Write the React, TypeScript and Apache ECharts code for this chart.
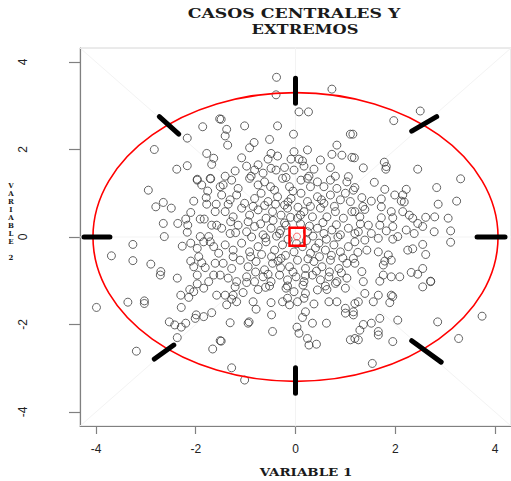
import React, { useEffect, useRef } from "react";
import * as echarts from "echarts";

// ---- data ----
const TICK_VALUES = [-4, -2, 0, 2, 4];
const AXIS_MIN = -4.32;
const AXIS_MAX = 4.32;

const TITLE_LINE_1 = "CASOS CENTRALES Y";
const TITLE_LINE_2 = "EXTREMOS";
const X_NAME = "VARIABLE 1";
const Y_NAME = "VARIABLE 2";

// ellipse radii (data units) of the red contour
const ELLIPSE_RADII = [4.06, 3.3];

// black marks crossing the contour: [x1, y1, x2, y2]
const MARK_SEGMENTS = [
  [3.64, 0, 4.2, 0],
  [-4.24, 0, -3.72, 0],
  [0, 3.63, 0, 3.06],
  [0, -2.99, 0, -3.57],
  [-2.73, 2.75, -2.34, 2.35],
  [2.33, 2.42, 2.83, 2.75],
  [-2.83, -2.79, -2.44, -2.47],
  [2.33, -2.37, 2.92, -2.86],
];

// faint guide lines through the centre
const GUIDE_SEGMENTS = [
  [-4.32, 0, 4.32, 0],
  [0, -4.32, 0, 4.32],
  [-4.32, -4.32, 4.32, 4.32],
  [-4.32, 4.32, 4.32, -4.32],
];

const CENTRAL_CASE = [[0.03, 0.01]];
const CENTRAL_BOX = [-0.12, -0.2, 0.18, 0.21];

const pointsUpperLeft = [
  [-1.86, 2.52], [-1.52, 2.7], [-2.17, 2.26], [-2.83, 2.0], [-1.78, 1.91], [-1.64, 1.8],
  [-1.68, 1.66], [-2.17, 1.63], [-2.38, 1.55], [-1.97, 1.32], [-1.71, 1.34],
];

const pointsUpper = [
  [-0.38, 3.65], [0.73, 3.38], [-0.39, 3.25], [0.07, 2.86], [0.26, 2.86], [-1.49, 2.69],
  [-1.02, 2.54], [-0.36, 2.54], [-1.38, 2.46], [-1.41, 2.31], [-0.04, 2.35], [1.1, 2.35],
  [-0.52, 2.23], [-1.36, 2.1], [-0.83, 2.16], [-0.92, 2.04], [0.83, 2.1], [0.24, 1.99],
  [-0.03, 1.95], [-0.49, 1.91], [-1.08, 1.81], [-0.55, 1.78], [-0.36, 1.85], [-0.09, 1.78],
  [0.07, 1.78], [0.14, 1.74], [0.73, 1.89], [0.93, 1.87], [1.13, 1.82], [0.5, 1.76],
  [-0.98, 1.62], [-0.75, 1.65], [-0.82, 1.53], [-0.49, 1.57], [-0.22, 1.59], [0.17, 1.62],
  [0.37, 1.55], [0.7, 1.59], [-1.21, 1.51], [-1.41, 1.39], [-0.89, 1.39], [-0.65, 1.46],
  [-0.39, 1.53], [-0.03, 1.53], [0.27, 1.39], [0.8, 1.39], [1.06, 1.38], [-0.19, 1.36],
];

const pointsUpperRight = [
  [2.5, 2.88], [1.97, 2.66], [1.15, 2.35], [1.18, 1.81], [1.36, 1.58], [1.78, 1.71],
  [1.82, 1.61], [1.81, 1.55], [2.45, 1.55], [3.31, 1.33],
];

const pointsLeft = [
  [-2.95, 1.07], [-2.65, 0.79], [-2.8, 0.69], [-2.49, 0.66], [-1.97, 1.3], [-1.7, 1.33],
  [-1.88, 1.19], [-1.76, 1.05], [-1.51, 1.15], [-2.04, 0.82], [-1.79, 0.9], [-1.78, 0.75],
  [-1.59, 0.75], [-2.1, 0.56], [-2.65, 0.31], [-2.36, 0.31], [-2.16, 0.27], [-2.2, 0.41],
  [-1.91, 0.41], [-1.83, 0.41], [-1.61, 0.58], [-1.68, 0.27], [-1.58, 0.27], [-2.17, 0.11],
  [-2.63, 0.01], [-1.91, 0.01], [-1.74, 0.01], [-3.26, -0.17], [-3.69, -0.43], [-3.26, -0.54],
  [-2.9, -0.62], [-2.7, -0.79], [-2.71, -0.87], [-2.37, -0.94], [-2.27, -0.21], [-2.1, -0.14],
  [-1.97, -0.26], [-1.84, -0.11], [-1.71, -0.11], [-1.64, -0.22], [-1.54, -0.37], [-2.1, -0.55],
  [-1.94, -0.45], [-1.88, -0.59], [-2.04, -0.68], [-1.81, -0.7], [-1.61, -0.6], [-1.97, -0.87],
  [-1.64, -0.87], [-1.51, -0.87], [-1.74, -1.02],
];

const pointsRight = [
  [1.58, 1.25], [2.83, 1.13], [2.22, 1.09], [1.79, 1.09], [1.19, 1.13], [1.99, 0.96],
  [2.15, 0.96], [1.33, 0.9], [1.72, 0.87], [1.52, 0.82], [2.12, 0.82], [2.18, 0.8],
  [3.23, 0.82], [2.86, 0.75], [1.72, 0.69], [1.39, 0.63], [1.19, 0.58], [1.92, 0.58],
  [2.15, 0.58], [1.29, 0.46], [1.72, 0.44], [1.95, 0.44], [2.28, 0.5], [2.35, 0.43],
  [2.61, 0.45], [2.79, 0.46], [3.06, 0.43], [2.45, 0.31], [2.55, 0.24], [1.46, 0.27],
  [1.69, 0.27], [1.95, 0.24], [2.22, 0.16], [2.38, 0.08], [2.78, 0.12], [3.11, 0.14],
  [1.26, 0.12], [1.52, 0.08], [1.82, 0.14], [2.05, 0.01], [1.95, -0.05], [1.66, -0.03],
  [1.39, -0.07], [1.19, -0.11], [3.11, -0.12], [2.55, -0.17], [2.35, -0.27], [2.25, -0.3],
  [2.61, -0.4], [1.43, -0.3], [1.66, -0.34], [1.86, -0.41], [1.19, -0.6], [1.79, -0.55],
  [1.92, -0.53], [1.76, -0.64], [2.55, -0.72], [2.32, -0.81], [2.45, -0.85], [1.33, -0.79],
  [1.76, -0.87], [1.92, -0.91], [2.09, -0.91], [2.71, -1.01], [1.69, -1.01], [1.36, -1.02],
];

const pointsLowerLeft = [
  [-3.99, -1.61], [-3.36, -1.49], [-3.03, -1.46], [-3.03, -1.52], [-2.29, -1.61], [-2.3, -1.33],
  [-2.12, -1.2], [-2.14, -1.38], [-2.04, -1.25], [-1.97, -1.07], [-1.84, -1.17], [-1.58, -1.33],
  [-2.53, -1.94], [-2.42, -2.01], [-2.2, -1.97], [-2.29, -2.06], [-1.99, -1.78], [-2.01, -1.86],
  [-1.84, -1.82], [-1.68, -1.73], [-2.37, -2.3], [-3.19, -2.61], [-1.66, -2.56], [-1.51, -2.37],
];

const pointsLower = [
  [-1.49, -2.38], [-1.31, -1.96], [-0.95, -1.97], [-0.93, -1.94], [-0.46, -2.16], [0.03, -2.06],
  [0.07, -2.2], [-0.48, -1.78], [0.14, -1.84], [0.34, -1.97], [0.62, -1.97], [0.24, -2.32],
  [0.27, -2.47], [0.42, -2.45], [1.1, -2.35], [1.19, -2.32], [-1.28, -2.99], [-1.02, -3.27],
  [-0.79, -1.65], [-0.49, -1.5], [-1.38, -1.55], [-1.28, -1.42], [-1.18, -1.48], [-0.85, -1.48],
  [-0.26, -1.48], [-0.12, -1.55], [-0.16, -1.4], [0.04, -1.48], [0.17, -1.4], [0.37, -1.53],
  [0.2, -1.71], [0.67, -1.48], [0.83, -1.48], [1.0, -1.63], [1.0, -1.74], [1.16, -1.71],
  [0.44, -1.21], [0.63, -1.2], [0.8, -1.06], [1.0, -1.17], [-0.03, -1.25], [0.2, -1.29],
  [-0.52, -1.12], [-0.75, -1.2], [-1.05, -1.27], [-1.25, -1.33], [-1.41, -1.33], [-1.21, -1.14],
  [-0.98, -1.04], [-0.19, -1.17], [-0.16, -1.12],
];

const pointsLowerRight = [
  [2.55, -1.14], [2.71, -1.02], [1.92, -1.33], [1.95, -1.36], [1.89, -1.5], [1.66, -1.33],
  [1.56, -1.48], [1.39, -1.29], [1.26, -1.48], [1.19, -1.52], [1.16, -1.78], [1.69, -1.86],
  [2.05, -1.9], [1.52, -1.97], [1.36, -2.0], [1.29, -2.13], [1.66, -2.16], [1.66, -2.24],
  [1.26, -2.35], [1.95, -2.39], [2.85, -1.94], [3.74, -1.81], [3.27, -2.32], [1.54, -2.89],
];

const pointsCenter = [
  [-1.45, 1.19], [-1.28, 1.3], [-1.15, 1.11], [-0.92, 1.34], [-0.75, 1.19], [-0.62, 1.26],
  [-0.42, 1.07], [-0.26, 1.34], [-0.12, 1.15], [0.11, 1.3], [0.24, 1.34], [0.44, 1.26],
  [0.57, 1.15], [0.7, 1.3], [0.83, 1.11], [1.03, 1.26], [1.16, 1.07],
  [-1.48, 0.96], [-1.31, 0.85], [-1.18, 0.96], [-1.02, 0.77], [-0.82, 0.88], [-0.69, 1.0],
  [-0.55, 0.81], [-0.36, 0.92], [-0.22, 0.73], [-0.09, 0.88], [0.11, 1.0], [0.24, 0.81],
  [0.44, 0.92], [0.57, 0.77], [0.7, 0.96], [0.9, 0.85], [1.1, 0.81], [1.0, 1.0],
  [-1.41, 0.58], [-1.25, 0.46], [-1.08, 0.66], [-0.92, 0.5], [-0.75, 0.62], [-0.59, 0.43],
  [-0.46, 0.58], [-0.29, 0.5], [-0.16, 0.66], [0.04, 0.43], [0.17, 0.58], [0.34, 0.46],
  [0.5, 0.66], [0.63, 0.46], [0.8, 0.58], [0.96, 0.43], [1.13, 0.58],
  [-1.48, 0.2], [-1.31, 0.08], [-1.15, 0.27], [-0.98, 0.12], [-0.82, 0.24], [-0.65, 0.05],
  [-0.49, 0.2], [-0.32, 0.08], [-0.19, 0.27], [0.24, 0.12], [0.44, 0.2], [0.57, 0.08],
  [0.73, 0.16], [0.9, 0.05], [1.06, 0.2], [1.19, 0.08],
  [-1.41, -0.18], [-1.25, -0.3], [-1.08, -0.14], [-0.92, -0.34], [-0.75, -0.22], [-0.59, -0.11],
  [-0.42, -0.3], [-0.26, -0.18], [-0.03, -0.34], [0.14, -0.22], [0.3, -0.37], [0.47, -0.14],
  [0.6, -0.3], [0.77, -0.18], [0.9, -0.34], [1.06, -0.22],
  [-1.45, -0.6], [-1.28, -0.72], [-1.11, -0.53], [-0.95, -0.68], [-0.79, -0.56], [-0.62, -0.75],
  [-0.46, -0.6], [-0.29, -0.49], [-0.12, -0.68], [0.04, -0.53], [0.2, -0.72], [0.37, -0.56],
  [0.53, -0.68], [0.7, -0.53], [0.87, -0.72], [1.03, -0.6], [1.16, -0.49],
  [-1.35, -0.94], [-1.18, -1.02], [-0.98, -0.91], [-0.82, -1.02], [-0.65, -0.91], [-0.49, -1.02],
  [-0.32, -0.87], [-0.16, -0.98], [0.01, -0.91], [0.17, -1.02], [0.34, -0.87], [0.5, -0.98],
  [0.67, -0.91], [0.83, -1.02], [1.03, -0.94],
];

const pointsDense = [
  [-0.85, 0.7], [-0.62, 0.72], [-0.4, 0.75], [-0.15, 0.8], [0.05, 0.68], [0.3, 0.7], [0.52, 0.85], [0.78, 0.7],
  [-0.95, 0.35], [-0.7, 0.3], [-0.45, 0.38], [-0.22, 0.32], [0.1, 0.3], [0.28, 0.25], [0.55, 0.33], [0.82, 0.28],
  [-0.88, 0.0], [-0.6, -0.02], [-0.38, 0.02], [-0.15, -0.05], [0.35, 0.02], [0.62, -0.05], [0.85, 0.0], [0.22, -0.08],
  [-0.9, -0.45], [-0.68, -0.4], [-0.48, -0.45], [-0.2, -0.42], [0.02, -0.15], [0.25, -0.5], [0.48, -0.45], [0.72, -0.42], [0.95, -0.48],
  [-0.8, -0.8], [-0.55, -0.85], [-0.3, -0.7], [-0.05, -0.8], [0.2, -0.88], [0.42, -0.78], [0.68, -0.8], [0.92, -0.82],
  [-1.2, 0.1], [-1.25, -0.45], [-1.3, 0.35], [1.25, -0.35], [1.3, 0.3], [1.35, 0.7], [-1.35, 0.75],
  [-0.5, 1.15], [0.3, 1.15], [-0.05, 1.05], [0.15, -1.1], [-0.6, -1.15], [0.6, -1.12], [-0.3, 0.15],
  [0.1, 0.5], [-0.1, 0.45], [0.4, -0.25], [-0.35, -0.55],
];

const allPoints = [
  ...pointsUpperLeft, ...pointsUpper, ...pointsUpperRight, ...pointsLeft, ...pointsRight,
  ...pointsLowerLeft, ...pointsLower, ...pointsLowerRight, ...pointsCenter, ...pointsDense,
];

function segmentRenderer(stroke: string, width: number) {
  return (params: any, api: any) => {
    const p1 = api.coord([api.value(0), api.value(1)]);
    const p2 = api.coord([api.value(2), api.value(3)]);
    return {
      type: "line",
      shape: { x1: p1[0], y1: p1[1], x2: p2[0], y2: p2[1] },
      style: { stroke, lineWidth: width, lineCap: "round", fill: "none" },
    };
  };
}

export default function App() {
  const ref = useRef<HTMLDivElement>(null);

  useEffect(() => {
    if (!ref.current) return;
    const chart = echarts.init(ref.current, null, { renderer: "svg" });
    const serif = '"DejaVu Serif", serif';
    const sans = '"Liberation Sans", Arial, sans-serif';

    chart.setOption({
      animation: false,
      backgroundColor: "#ffffff",
      grid: {
        left: 80,
        top: 48,
        width: 436,
        height: 378,
        show: true,
        borderColor: "#d6d6d6",
        borderWidth: 1,
        backgroundColor: "transparent",
      },
      xAxis: {
        type: "value",
        min: AXIS_MIN,
        max: AXIS_MAX,
        axisLine: { show: true, onZero: false, lineStyle: { color: "#808080", width: 1.2 } },
        axisTick: {
          show: true,
          length: 8,
          customValues: TICK_VALUES,
          lineStyle: { color: "#808080", width: 1.2 },
        },
        axisLabel: {
          customValues: TICK_VALUES,
          margin: 17,
          fontSize: 12,
          color: "#222",
          fontFamily: sans,
        },
        splitLine: { show: false },
      },
      yAxis: {
        type: "value",
        min: AXIS_MIN,
        max: AXIS_MAX,
        axisLine: { show: true, onZero: false, lineStyle: { color: "#808080", width: 1.2 } },
        axisTick: {
          show: true,
          length: 11,
          customValues: TICK_VALUES,
          lineStyle: { color: "#808080", width: 1.2 },
        },
        axisLabel: {
          customValues: TICK_VALUES,
          rotate: 90,
          margin: 51,
          fontSize: 12,
          color: "#222",
          fontFamily: sans,
        },
        splitLine: { show: false },
      },
      graphic: [
        {
          type: "text",
          x: 294,
          y: 14,
          scaleX: 1.33,
          style: {
            text: TITLE_LINE_1,
            font: `bold 13px ${serif}`,
            fill: "#1a1a1a",
            textAlign: "center",
            textVerticalAlign: "middle",
          },
        },
        {
          type: "text",
          x: 305,
          y: 29,
          scaleX: 1.25,
          style: {
            text: TITLE_LINE_2,
            font: `bold 13px ${serif}`,
            fill: "#1a1a1a",
            textAlign: "center",
            textVerticalAlign: "middle",
          },
        },
        {
          type: "text",
          x: 306,
          y: 473,
          scaleX: 1.28,
          style: {
            text: X_NAME,
            font: `bold 10.5px ${serif}`,
            fill: "#1a1a1a",
            textAlign: "center",
            textVerticalAlign: "middle",
          },
        },
        {
          type: "text",
          x: 11,
          y: 181,
          style: {
            text: Y_NAME.split("").join("\n"),
            font: `bold 7px ${serif}`,
            lineHeight: 8.1,
            fill: "#1a1a1a",
            textAlign: "center",
            textVerticalAlign: "top",
          },
        },
      ],
      series: [
        {
          type: "custom",
          silent: true,
          z: 1,
          renderItem: segmentRenderer("#f3f3f3", 1),
          encode: { x: [0, 2], y: [1, 3] },
          data: GUIDE_SEGMENTS,
        },
        {
          type: "scatter",
          z: 2,
          symbol: "circle",
          symbolSize: 8,
          itemStyle: { color: "rgba(0,0,0,0)", borderColor: "#3c3c3c", borderWidth: 1 },
          data: allPoints,
        },
        {
          type: "custom",
          silent: true,
          z: 3,
          renderItem: (params: any, api: any) => {
            const c = api.coord([0, 0]);
            const s = api.size([ELLIPSE_RADII[0], ELLIPSE_RADII[1]]);
            return {
              type: "ellipse",
              shape: { cx: c[0], cy: c[1], rx: s[0], ry: s[1] },
              style: { fill: "none", stroke: "#ff0000", lineWidth: 1.6 },
            };
          },
          data: [[0, 0]],
        },
        {
          type: "custom",
          silent: true,
          z: 4,
          renderItem: segmentRenderer("#000000", 5),
          encode: { x: [0, 2], y: [1, 3] },
          data: MARK_SEGMENTS,
        },
        {
          type: "scatter",
          z: 5,
          symbol: "circle",
          symbolSize: 7,
          itemStyle: { color: "rgba(0,0,0,0)", borderColor: "#ff4040", borderWidth: 1 },
          data: CENTRAL_CASE,
        },
        {
          type: "custom",
          silent: true,
          z: 6,
          renderItem: (params: any, api: any) => {
            const p1 = api.coord([CENTRAL_BOX[0], CENTRAL_BOX[3]]);
            const p2 = api.coord([CENTRAL_BOX[2], CENTRAL_BOX[1]]);
            return {
              type: "rect",
              shape: { x: p1[0], y: p1[1], width: p2[0] - p1[0], height: p2[1] - p1[1] },
              style: { fill: "none", stroke: "#ff0000", lineWidth: 2.5 },
            };
          },
          data: [[0, 0]],
        },
      ],
    });
    return () => chart.dispose();
  }, []);

  return (
    <div
      ref={ref}
      style={{ position: "absolute", left: 0, top: 0, width: 511, height: 481 }}
    />
  );
}
